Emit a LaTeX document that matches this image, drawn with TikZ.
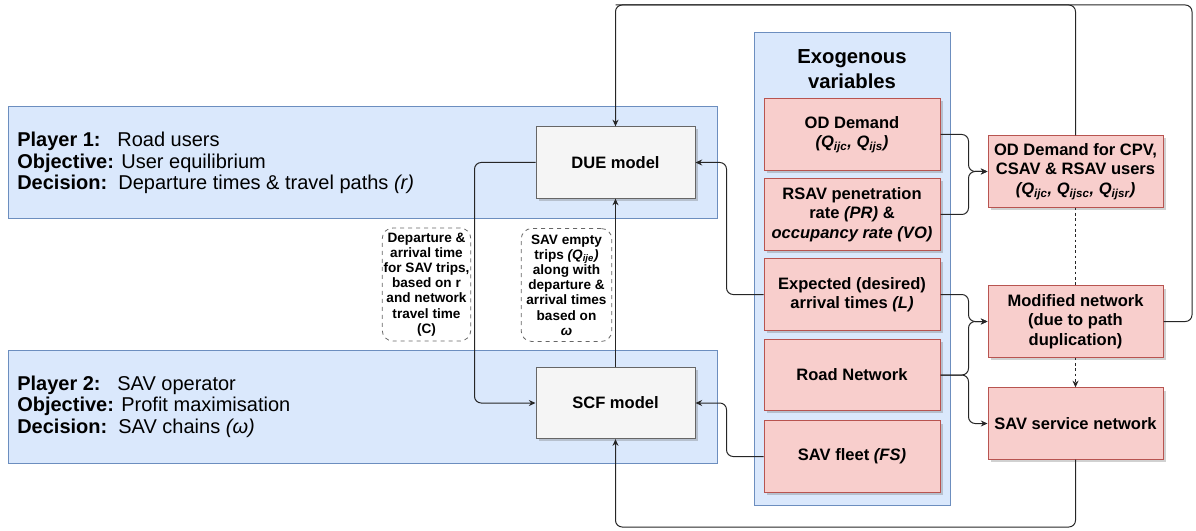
\documentclass[tikz,border=0pt]{standalone}
\usepackage{fontspec}
\setmainfont{Liberation Sans}
\usetikzlibrary{arrows.meta, shadows}

\definecolor{bandfill}{HTML}{DAE8FC}
\definecolor{bandline}{HTML}{6C8EBF}
\definecolor{varfill}{HTML}{F8CECC}
\definecolor{varline}{HTML}{B85450}
\definecolor{modfill}{HTML}{F5F5F5}
\definecolor{modline}{HTML}{666666}

\begin{document}
\begin{tikzpicture}[x=0.75pt, y=-0.75pt,
  band/.style={draw=bandline, fill=bandfill, line width=0.75pt, inner sep=0pt},
  boxshadow/.style={drop shadow={shadow xshift=2pt, shadow yshift=-2pt, opacity=0.3, fill=black!60}},
  model/.style={draw=modline, fill=modfill, line width=0.75pt, boxshadow,
    minimum width=119.25pt, minimum height=53.5pt, align=center,
    font=\fontsize{12.4}{14.6}\selectfont\bfseries},
  var/.style={draw=varline, fill=varfill, line width=0.75pt, boxshadow,
    minimum width=132pt, minimum height=53.5pt, align=center, inner sep=1pt,
    font=\fontsize{12.4}{14.6}\selectfont\bfseries},
  note/.style={draw=black!60, dashed, rounded corners=8pt, line width=0.6pt,
    minimum width=66pt, minimum height=84.75pt, align=center, inner sep=1pt,
    font=\fontsize{10.2}{11.4}\selectfont\bfseries},
  player/.style={anchor=west, align=left, inner sep=0pt,
    font=\fontsize{15}{16.2}\selectfont},
  link/.style={-{Stealth[length=5pt, width=4.5pt]}, line width=0.75pt, black!85, rounded corners=5pt},
  plain/.style={line width=0.75pt, black!85, rounded corners=5pt}]
\useasboundingbox (0,0) rectangle (1196,531);

% players
\node[band, minimum width=531.75pt, minimum height=84pt] (band1) at (362.5,163) {};
\node[band, minimum width=531.75pt, minimum height=84.75pt] (band2) at (362.5,406.5) {};
\node[player] (p1text) at (17,163) {\textbf{Player 1:}~~~Road users\\
  \textbf{Objective:} User equilibrium\\
  \textbf{Decision:}~~Departure times \& travel paths \textit{(r)}};
\node[player] (p2text) at (17,406.5) {\textbf{Player 2:}~~~SAV operator\\
  \textbf{Objective:} Profit maximisation\\
  \textbf{Decision:}~~SAV chains \textit{(ω)}};

% models
\node[model] (due) at (615.5,162.5) {DUE model};
\node[model] (scf) at (615.5,403) {SCF model};

% exogenous variables
\node[band, minimum width=147pt, minimum height=354pt] (exo) at (852,269) {};
\node[align=center, font=\fontsize{15.2}{18.2}\selectfont\bfseries] (exotitle) at (852,69) {Exogenous\\variables};
\node[var] (od) at (852,134.5) {OD Demand\\\textit{(Q\textsubscript{ijc}, Q\textsubscript{ijs})}};
\node[var] (rsav) at (852,214.5) {RSAV penetration\\rate \textit{(PR)} \&\\\textit{occupancy rate (VO)}};
\node[var] (exp) at (852,294.5) {Expected (desired)\\arrival times \textit{(L)}};
\node[var] (road) at (852,375) {Road Network};
\node[var] (fleet) at (852,456.5) {SAV fleet \textit{(FS)}};

% derived inputs
\node[var, minimum width=131.25pt] (odcpv) at (1075.5,171.5) {OD Demand for CPV,\\CSAV \& RSAV users\\\textit{(Q\textsubscript{ijc}, Q\textsubscript{ijsc}, Q\textsubscript{ijsr})}};
\node[var, minimum width=131.25pt] (modnet) at (1075.5,321.5) {Modified network\\(due to path\\duplication)};
\node[var, minimum width=131.25pt] (svc) at (1075.5,423.5) {SAV service network};

% exchanged information
\node[note] (note1) at (426.5,284.5) {Departure \&\\arrival time\\for SAV trips,\\based on r\\and network\\travel time\\(C)};
\node[note, minimum width=68pt] (note2) at (566.5,285) {SAV empty\\trips \textit{(Q\textsubscript{ije})}\\along with\\departure \&\\arrival times\\based on\\\textit{ω}};

% loop corners
\coordinate (tr) at (1192,5);
\coordinate (tl) at (615.5,5);
\coordinate (bl) at (615.5,527);

% connectors
\draw[link] (modnet.east) -| (tr) -- (tl) -- (due.north);
\draw[plain] (odcpv.north) |- (tl);
\draw[link] (svc.south) |- (bl) -- (scf.south);
\draw[link] (due.west) -- ++(-61,0) |- (scf.west);
\draw[link] (scf.north) -- (due.south);
\draw[link] (exp.west) -- ++(-37,0) |- (due.east);
\draw[link] (fleet.west) -- ++(-37,0) |- (scf.east);
\draw[link] (od.east) -- ++(28,0) |- (odcpv.west);
\draw[link] (rsav.east) -- ++(28,0) |- (odcpv.west);
\draw[link] (exp.east) -- ++(28,0) |- (modnet.west);
\draw[link] (road.east) -- ++(28,0) |- (modnet.west);
\draw[link] (road.east) -- ++(28,0) |- (svc.west);
\draw[plain, dash pattern=on 2pt off 2pt] (odcpv.south) -- (modnet.north);
\draw[link, dash pattern=on 2pt off 2pt] (modnet.south) -- (svc.north);
\end{tikzpicture}
\end{document}
